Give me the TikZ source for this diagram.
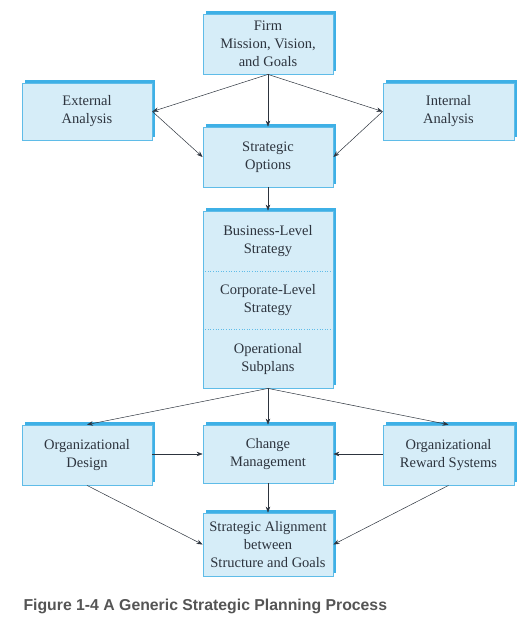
\documentclass[tikz,border=0pt]{standalone}
\usepackage{fontspec}
\setmainfont{Liberation Serif}
\newfontfamily\boxfont{Liberation Serif}
\newfontfamily\capfont{Liberation Sans}
\usetikzlibrary{arrows.meta,shadows}
\definecolor{boxfill}{RGB}{214,237,248}
\definecolor{boxline}{RGB}{95,188,232}
\definecolor{boxshade}{RGB}{62,176,230}
\definecolor{inkgray}{RGB}{45,52,62}
\definecolor{capgray}{RGB}{85,85,85}
\tikzset{
  box/.style={draw=boxline, fill=boxfill, line width=0.8pt, minimum width=130pt,
    align=center, text=inkgray, inner sep=2pt,
    font=\boxfont\fontsize{14.5}{18}\selectfont,
    general shadow={fill=boxshade, shadow xshift=3pt, shadow yshift=3pt}},
  part/.style={align=center, text=inkgray, font=\boxfont\fontsize{14.5}{18}\selectfont},
  link/.style={-{Stealth[length=6pt,width=4.5pt]}, draw=inkgray, line width=0.5pt}
}
\begin{document}
\begin{tikzpicture}[x=1pt,y=-1pt]
        \useasboundingbox (0,0) rectangle (530,637);
        % top
        \node (firm) [box, minimum height=60pt] at (268,44) {Firm\\Mission, Vision,\\and Goals};
        \node (ext) [box, minimum height=57pt] at (87,111.5) {External\\Analysis};
        \node (int) [box, minimum height=57pt, minimum width=131pt] at (448.5,111.5) {Internal\\Analysis};
        \node (opts) [box, minimum height=60pt] at (268,157) {Strategic\\Options};
        % strategy levels
        \node (strat) [box, minimum height=177pt] at (268,299.5) {};
        \node (bls) [part] at (268,241) {Business-Level\\Strategy};
        \node (cls) [part] at (268,300) {Corporate-Level\\Strategy};
        \node (ops) [part] at (268,359) {Operational\\Subplans};
        \draw[boxline, dotted, line width=0.6pt] (strat.west |- 0,271) -- (strat.east |- 0,271);
        \draw[boxline, dotted, line width=0.6pt] (strat.west |- 0,329) -- (strat.east |- 0,329);
        % bottom
        \node (orgd) [box, minimum height=60pt] at (87,455) {Organizational\\Design};
        \node (chg) [box, minimum height=58pt] at (268,454) {Change\\Management};
        \node (rew) [box, minimum height=60pt, minimum width=131pt] at (448.5,455) {Organizational\\Reward Systems};
        \node (align) [box, minimum height=63pt] at (268,544.5) {Strategic Alignment\\between\\Structure and Goals};
        \node (cap) [anchor=west, text=capgray, font=\capfont\bfseries\fontsize{15.8}{18}\selectfont] at (20,606) {Figure 1-4 A Generic Strategic Planning Process};
        \draw[link] (firm.south) to (ext.east);
        \draw[link] (firm.south) to (int.west);
        \draw[link] (firm.south) to (opts.north);
        \draw[link] (ext.east) to (opts.west);
        \draw[link] (int.west) to (opts.east);
        \draw[link] (opts.south) to (strat.north);
        \draw[link] (strat.south) to (orgd.north);
        \draw[link] (strat.south) to (chg.north);
        \draw[link] (strat.south) to (rew.north);
        \draw[link] (orgd.east |- chg.west) to (chg.west);
        \draw[link] (rew.west |- chg.east) to (chg.east);
        \draw[link] (chg.south) to (align.north);
        \draw[link] (orgd.south) to (align.west);
        \draw[link] (rew.south) to (align.east);
      \end{tikzpicture}
\end{document}
